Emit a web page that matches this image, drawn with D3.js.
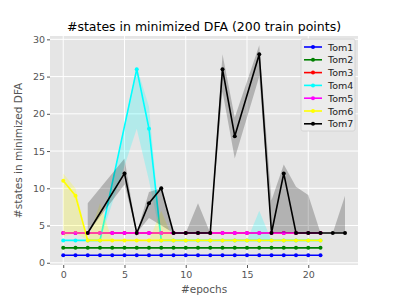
<!DOCTYPE html>
<html>
<head>
<meta charset="utf-8">
<script src="https://cdn.jsdelivr.net/npm/d3@7"></script>
<style>
  body { margin: 0; background: white; }
  text { font-family: "DejaVu Sans", sans-serif; }
</style>
</head>
<body>
<script>
// chart size and plot box
let width = 399;
let height = 299;
let margin = { top: 36, bottom: 34, left: 50, right: 41 };

// series data (epoch, mean, band low, band high)
let names = ["Tom1", "Tom2", "Tom3", "Tom4", "Tom5", "Tom6", "Tom7"];
let colors = ["#0000ff", "#008000", "#ff0000", "#00ffff", "#ff00ff", "#ffff00", "#000000"];

let epochsFull = d3.range(0, 22);
let tom1 = epochsFull.map(() => 1);
let tom2 = epochsFull.map(() => 2);
let tom3 = epochsFull.map(() => 4);
let tom5 = epochsFull.map(() => 4);

let tom4X = [0, 1, 2, 3, 6, 7, 8, 9, 10, 11, 12, 13, 14, 15, 16, 17, 18, 19, 20, 21];
let tom4Y = [3, 3, 3, 3, 26, 18, 3, 3, 3, 3, 3, 3, 3, 3, 3, 3, 3, 3, 3, 3];
let tom4Lo = [3, 3, 3, 3, 18, 11, 3, 3, 3, 3, 3, 3, 3, 3, 3, 3, 3, 3, 3, 3];
let tom4Hi = [3, 3, 3, 3, 26.3, 21, 3, 3, 3, 3, 3, 3, 3, 3, 7, 3, 3, 3, 3, 3];

let tom6Y = [11, 9, 3, 3, 3, 3, 3, 3, 3, 3, 3, 3, 3, 3, 3, 3, 3, 3, 3, 3, 3, 3];
let tom6Lo = [3.5, 4, 3, 3, 3, 3, 3, 3, 3, 3, 3, 3, 3, 3, 3, 3, 3, 3, 3, 3, 3, 3];
let tom6Hi = [12, 10, 3, 8, 3, 3, 3, 3, 7, 3, 3, 3, 3, 3, 3, 3, 3, 3, 3, 3, 3, 3];

let tom7X = [2, 5, 6, 7, 8, 9, 10, 11, 12, 13, 14, 16, 17, 18, 19, 20, 21, 22, 23];
let tom7Y = [4, 12, 4, 8, 10, 4, 4, 4, 4, 26, 17, 28, 4, 12, 4, 4, 4, 4, 4];
let tom7Lo = [4, 10.5, 4, 6, 5, 4, 4, 4, 4, 23, 14, 25, 4, 4, 4, 4, 4, 4, 4];
let tom7Hi = [8, 14, 4, 9.5, 10, 4, 4, 8, 4, 28, 19.5, 29.2, 8.4, 13.2, 10.2, 9.1, 4, 4, 9];

let xTicks = [0, 5, 10, 15, 20];
let yTicks = [0, 5, 10, 15, 20, 25, 30];

function pack(xs, ys, lo, hi) {
  return xs.map((x, i) => ({ x: x, y: ys[i], lo: lo ? lo[i] : ys[i], hi: hi ? hi[i] : ys[i] }));
}

let series = [
  { name: names[0], color: colors[0], pts: pack(epochsFull, tom1) },
  { name: names[1], color: colors[1], pts: pack(epochsFull, tom2) },
  { name: names[2], color: colors[2], pts: pack(epochsFull, tom3) },
  { name: names[3], color: colors[3], pts: pack(tom4X, tom4Y, tom4Lo, tom4Hi) },
  { name: names[4], color: colors[4], pts: pack(epochsFull, tom5) },
  { name: names[5], color: colors[5], pts: pack(epochsFull, tom6Y, tom6Lo, tom6Hi) },
  { name: names[6], color: colors[6], pts: pack(tom7X, tom7Y, tom7Lo, tom7Hi) }
];

let svg = d3.select("body")
  .append("svg")
  .attr("width", width)
  .attr("height", height);

let x = d3.scaleLinear()
  .domain([-1.08, 24.06])
  .range([margin.left, width - margin.right]);

let y = d3.scaleLinear()
  .domain([-0.3, 30.45])
  .range([height - margin.bottom, margin.top]);

// plot background
svg.append("rect")
  .attr("x", margin.left)
  .attr("y", margin.top)
  .attr("width", width - margin.left - margin.right)
  .attr("height", height - margin.top - margin.bottom)
  .attr("fill", "#e5e5e5");

// grid
svg.append("g").selectAll("line").data(xTicks).enter().append("line")
  .attr("x1", d => x(d)).attr("x2", d => x(d))
  .attr("y1", margin.top).attr("y2", height - margin.bottom)
  .attr("stroke", "white").attr("stroke-width", 1);
svg.append("g").selectAll("line").data(yTicks).enter().append("line")
  .attr("y1", d => y(d)).attr("y2", d => y(d))
  .attr("x1", margin.left).attr("x2", width - margin.right)
  .attr("stroke", "white").attr("stroke-width", 1);

// axes
let xAxis = svg.append("g")
  .attr("transform", `translate(0, ${height - margin.bottom})`)
  .call(d3.axisBottom(x).tickValues(xTicks).tickSize(3).tickPadding(3));
let yAxis = svg.append("g")
  .attr("transform", `translate(${margin.left}, 0)`)
  .call(d3.axisLeft(y).tickValues(yTicks).tickSize(3).tickPadding(2));
[xAxis, yAxis].forEach(a => {
  a.select(".domain").remove();
  a.selectAll("line").attr("stroke", "#555555");
  a.selectAll("text").attr("fill", "#555555").style("font-size", "9.5px")
    .style("font-family", "DejaVu Sans");
});

let plot = svg.append("g");

let line = d3.line().x(d => x(d.x)).y(d => y(d.y));
let area = d3.area().x(d => x(d.x)).y0(d => y(d.lo)).y1(d => y(d.hi));

series.forEach(s => {
  plot.append("path")
    .datum(s.pts)
    .attr("d", line)
    .attr("fill", "none")
    .attr("stroke", s.color)
    .attr("stroke-width", 1.6);
  plot.selectAll(null).data(s.pts).enter().append("circle")
    .attr("cx", d => x(d.x))
    .attr("cy", d => y(d.y))
    .attr("r", 2)
    .attr("fill", s.color);
  plot.append("path")
    .datum(s.pts)
    .attr("d", area)
    .attr("fill", s.color)
    .attr("fill-opacity", 0.22)
    .attr("stroke", "none");
});

// title and labels
svg.append("text")
  .attr("x", (margin.left + width - margin.right) / 2)
  .attr("y", 31)
  .attr("text-anchor", "middle")
  .style("font-size", "12.5px")
  .attr("fill", "#000")
  .text("#states in minimized DFA (200 train points)");

svg.append("text")
  .attr("x", (margin.left + width - margin.right) / 2)
  .attr("y", 293)
  .attr("text-anchor", "middle")
  .style("font-size", "10.5px")
  .attr("fill", "#555555")
  .text("#epochs");

svg.append("text")
  .attr("transform", `translate(22, ${(margin.top + height - margin.bottom) / 2}) rotate(-90)`)
  .attr("text-anchor", "middle")
  .style("font-size", "10.5px")
  .attr("fill", "#555555")
  .text("#states in minimized DFA");

// legend
let lg = svg.append("g").attr("transform", "translate(301, 39)");
lg.append("rect")
  .attr("width", 54).attr("height", 92)
  .attr("rx", 2)
  .attr("fill", "#ececec").attr("stroke", "#d0d0d0").attr("stroke-width", 0.8);
let item = lg.selectAll(".item").data(series).enter().append("g")
  .attr("transform", (d, i) => `translate(0, ${8 + i * 12.8})`);
item.append("line")
  .attr("x1", 3).attr("x2", 21)
  .attr("stroke", d => d.color).attr("stroke-width", 1.6);
item.append("circle").attr("cx", 12).attr("r", 2).attr("fill", d => d.color);
item.append("text")
  .attr("x", 27).attr("y", 3.5)
  .style("font-size", "9.5px")
  .attr("fill", "#222")
  .text(d => d.name);
</script>
</body>
</html>
